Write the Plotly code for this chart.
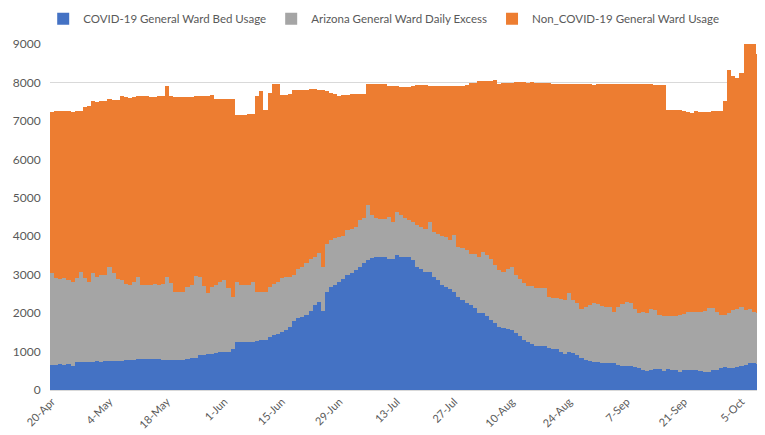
import pandas as pd
import plotly.graph_objects as go

dates = pd.date_range("2020-04-20", "2020-10-09", freq="D")

tick_dates = ["2020-04-20", "2020-05-04", "2020-05-18", "2020-06-01", "2020-06-15",
              "2020-06-29", "2020-07-13", "2020-07-27", "2020-08-10", "2020-08-24",
              "2020-09-07", "2020-09-21", "2020-10-05"]
tick_labels = ["20-Apr", "4-May", "18-May", "1-Jun", "15-Jun", "29-Jun", "13-Jul",
               "27-Jul", "10-Aug", "24-Aug", "7-Sep", "21-Sep", "5-Oct"]

covid_usage = [
    650, 650, 670, 640, 670, 630, 740, 740, 720, 720,
    740, 760, 740, 760, 760, 760, 750, 760, 780, 780,
    780, 800, 800, 810, 810, 810, 800, 780, 780, 780,
    780, 780, 770, 800, 820, 830, 900, 910, 940, 940,
    960, 980, 990, 1000, 1070, 1260, 1240, 1250, 1250, 1260,
    1280, 1290, 1310, 1370, 1430, 1450, 1500, 1560, 1650, 1800,
    1880, 1900, 1950, 2050, 2200, 2300, 2050, 2560, 2690, 2730,
    2820, 2900, 3000, 3050, 3130, 3210, 3300, 3380, 3440, 3450,
    3460, 3470, 3400, 3420, 3520, 3470, 3460, 3460, 3390, 3200,
    3140, 3060, 3080, 2950, 2850, 2740, 2690, 2620, 2560, 2430,
    2330, 2270, 2210, 2130, 2010, 2000, 1930, 1820, 1740, 1650,
    1620, 1590, 1560, 1480, 1410, 1300, 1240, 1200, 1150, 1150,
    1150, 1090, 1060, 1060, 1000, 940, 990, 950, 910, 830,
    780, 760, 740, 740, 710, 710, 690, 690, 650, 630,
    620, 630, 610, 560, 520, 500, 520, 540, 540, 500,
    540, 520, 510, 480, 510, 520, 520, 530, 500, 480,
    480, 520, 530, 560, 590, 570, 560, 600, 620, 650,
    710, 710, 680,
]

daily_excess = [
    2400, 2270, 2220, 2270, 2200, 2170, 2170, 2320, 2190, 2080,
    2300, 2190, 2260, 2240, 2430, 2280, 2130, 2090, 1980, 1960,
    2020, 2150, 1940, 1930, 1930, 1950, 1940, 1970, 2170, 2000,
    1780, 1780, 1770, 1890, 1900, 2140, 2050, 1800, 1580, 1750,
    1770, 1820, 1880, 1650, 1360, 1560, 1480, 1470, 1490, 1560,
    1280, 1270, 1250, 1320, 1330, 1370, 1410, 1390, 1300, 1200,
    1260, 1300, 1350, 1350, 1270, 1260, 1160, 1240, 1210, 1220,
    1170, 1100, 1150, 1150, 1110, 1200, 1170, 1440, 1120, 1020,
    990, 980, 1100, 940, 1120, 1090, 1010, 970, 990, 1100,
    1110, 1130, 1280, 1170, 1210, 1260, 1290, 1270, 1480, 1300,
    1360, 1360, 1330, 1410, 1450, 1580, 1590, 1580, 1500, 1470,
    1460, 1550, 1640, 1510, 1470, 1490, 1460, 1500, 1500, 1500,
    1500, 1340, 1330, 1330, 1360, 1390, 1540, 1380, 1350, 1270,
    1370, 1450, 1520, 1500, 1480, 1440, 1460, 1350, 1500, 1610,
    1680, 1640, 1490, 1450, 1520, 1510, 1580, 1540, 1400, 1420,
    1380, 1400, 1410, 1460, 1480, 1510, 1500, 1490, 1540, 1580,
    1650, 1610, 1510, 1400, 1350, 1430, 1530, 1520, 1540, 1430,
    1410, 1320, 1330,
]

non_covid_usage = [
    4170, 4330, 4360, 4340, 4380, 4430, 4360, 4210, 4460, 4590,
    4490, 4550, 4510, 4520, 4370, 4510, 4670, 4790, 4870, 4860,
    4810, 4690, 4910, 4910, 4890, 4870, 4900, 4890, 4950, 4860,
    5060, 5060, 5080, 4940, 4910, 4680, 4710, 4950, 5140, 4990,
    4840, 4760, 4690, 4910, 5130, 4340, 4440, 4440, 4430, 4350,
    5080, 5210, 4730, 5040, 5200, 5140, 4760, 4720, 4750, 4800,
    4670, 4610, 4510, 4430, 4360, 4250, 4600, 3970, 3830, 3750,
    3670, 3680, 3530, 3490, 3460, 3290, 3230, 3150, 3400, 3490,
    3510, 3510, 3420, 3560, 3260, 3330, 3410, 3450, 3520, 3640,
    3690, 3750, 3540, 3780, 3840, 3900, 3920, 4010, 3880, 4190,
    4230, 4300, 4450, 4450, 4570, 4450, 4510, 4630, 4830, 4850,
    4900, 4850, 4790, 5010, 5120, 5210, 5290, 5300, 5340, 5340,
    5330, 5550, 5580, 5580, 5600, 5640, 5430, 5630, 5690, 5850,
    5810, 5750, 5680, 5710, 5770, 5800, 5810, 5920, 5800, 5710,
    5660, 5700, 5860, 5940, 5910, 5940, 5850, 5860, 6000, 6020,
    5370, 5370, 5370, 5340, 5280, 5200, 5180, 5230, 5200, 5170,
    5100, 5120, 5210, 5290, 5570, 6330, 6070, 6000, 6090, 6940,
    6900, 6990, 6740,
]

series_names = ["COVID-19 General Ward Bed Usage",
                "Arizona General Ward Daily Excess",
                "Non_COVID-19 General Ward Usage"]
series_colors = ["#4472C4", "#A5A5A5", "#ED7D31"]

fig = go.Figure()
for name, vals, col in zip(series_names, [covid_usage, daily_excess, non_covid_usage], series_colors):
    fig.add_trace(go.Bar(x=dates, y=vals, name=name, marker=dict(color=col, line=dict(width=0))))

font_fam = "Lato, 'Open Sans', sans-serif"
# page body adds an 8px offset; size the figure so it fits the 765x435 window
fig.update_layout(
    barmode="stack",
    bargap=0,
    width=757, height=427,
    margin=dict(l=42, r=5, t=36, b=45, autoexpand=False),
    paper_bgcolor="white", plot_bgcolor="white",
    font=dict(family=font_fam, size=12, color="#595959"),
    legend=dict(orientation="h", x=0.47, xanchor="center",
                yref="container", y=0.975, yanchor="middle",
                traceorder="normal", font=dict(size=11.5, color="#595959"),
                itemwidth=30, tracegroupgap=0),
    showlegend=True,
)
fig.update_xaxes(
    type="date", automargin=False,
    range=["2020-04-19 12:00", "2020-10-09 12:00"],
    tickvals=tick_dates, ticktext=tick_labels,
    tickangle=-45, ticks="", showgrid=False,
    showline=True, linecolor="#D9D9D9", linewidth=1,
    tickfont=dict(size=11, color="#595959"),
)
fig.update_yaxes(
    range=[0, 9000], dtick=1000, tickformat="d", automargin=False,
    showgrid=True, gridcolor="#D9D9D9", gridwidth=1,
    zeroline=False, ticks="outside", ticklen=6, tickcolor="rgba(0,0,0,0)",
    tickfont=dict(size=12, color="#595959"),
)

fig.write_html("out.html")
